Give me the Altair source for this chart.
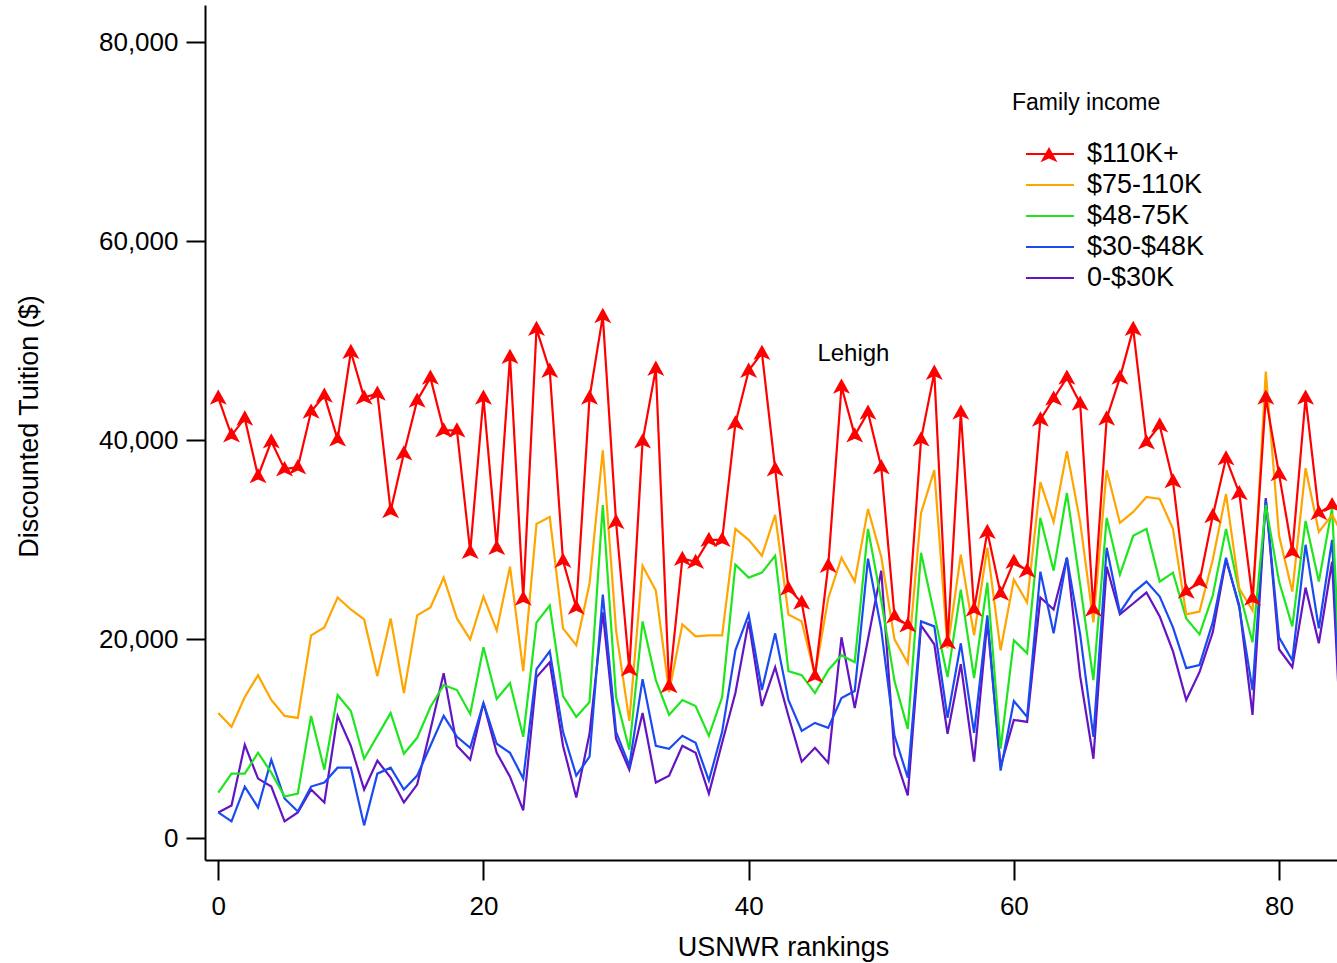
import altair as alt
import pandas as pd

series_names = ["$110K+", "$75-110K", "$48-75K", "$30-$48K", "0-$30K"]
series_colors = ["#FF0000", "#FFA500", "#1EE61E", "#1A4BF0", "#6414C0"]

ranks = list(range(0, 86))

tuition_110k = [44300, 40500, 42200, 36400, 39900, 37100, 37300, 42900, 44500, 40100,
                48900, 44300, 44700, 32900, 38700, 44000, 46300, 41000, 41000, 28800,
                44300, 29200, 48400, 24100, 51200, 47000, 27900, 23200, 44300, 52500,
                31800, 17000, 39900, 47200, 15300, 28100, 27800, 30000, 30000, 41700,
                47000, 48800, 37100, 25100, 23700, 16300, 27400, 45400, 40500, 42800,
                37300, 22300, 21400, 40100, 46800, 19700, 42800, 23000, 30800, 24600,
                27800, 26900, 42100, 44200, 46300, 43700, 23000, 42200, 46300, 51200,
                39800, 41500, 35900, 24800, 25800, 32400, 38200, 34700, 24100, 44300,
                36600, 28800, 44300, 32700, 33500, 33000]
tuition_75k = [12600, 11200, 14200, 16400, 13900, 12300, 12100, 20400, 21200, 24200,
               23000, 22000, 16300, 22100, 14600, 22400, 23200, 26200, 22100, 20000,
               24300, 20900, 27300, 16800, 31600, 32300, 21100, 19400, 25600, 39000,
               20900, 11800, 27400, 24900, 14700, 21500, 20300, 20400, 20400, 31100,
               30000, 28400, 32500, 22500, 21800, 16400, 24100, 28200, 25800, 33100,
               28300, 20000, 17600, 32700, 37000, 19100, 28500, 20400, 29200, 18900,
               26000, 23700, 35800, 31800, 38900, 31800, 21700, 37000, 31700, 32800,
               34300, 34100, 31100, 22500, 22800, 28000, 34600, 25100, 22900, 46900,
               30400, 24800, 37200, 30800, 32500, 30000]
tuition_48k = [4600, 6500, 6500, 8600, 6600, 4200, 4500, 12300, 6900, 14400,
               12800, 8000, 10300, 12600, 8500, 10100, 13200, 15400, 14900, 12500,
               19200, 14000, 15600, 10200, 21700, 23400, 14300, 12200, 13700, 33500,
               14200, 8900, 21800, 15900, 12400, 13900, 13300, 10300, 14200, 27500,
               26200, 26700, 28400, 16800, 16400, 14600, 16900, 18400, 17700, 31100,
               23900, 15800, 11000, 28700, 22500, 16200, 25000, 16100, 25700, 9000,
               19900, 18600, 32200, 26900, 34700, 25500, 15900, 32200, 26500, 30400,
               31100, 25800, 26700, 22100, 20500, 24400, 31100, 24800, 19700, 33500,
               25800, 21300, 31900, 25800, 33200, 5000]
tuition_30k = [2600, 1700, 5200, 3100, 7900, 4000, 2700, 5200, 5600, 7100,
               7100, 1300, 6500, 7100, 4900, 6300, 9300, 12300, 10200, 9100,
               13600, 9500, 8600, 6000, 17000, 18800, 10700, 6300, 8200, 24500,
               10700, 7300, 16000, 9300, 9000, 10300, 9600, 5800, 10700, 18900,
               22500, 14900, 20600, 13900, 10800, 11600, 11100, 14100, 14800, 28100,
               21000, 10300, 6100, 21800, 21300, 12100, 19600, 10600, 22400, 6800,
               13800, 12200, 26800, 20600, 28200, 20500, 10200, 29200, 22700, 24700,
               25800, 24300, 21200, 17100, 17400, 21700, 28200, 23200, 14900, 34000,
               20200, 17900, 29500, 21100, 30000, 3000]
tuition_0k = [2600, 3300, 9400, 6000, 5200, 1700, 2600, 4900, 3600, 12300,
              9300, 4900, 7800, 6100, 3600, 5400, 10900, 16600, 9300, 7900,
              13600, 8600, 6200, 2800, 16200, 17700, 9300, 4100, 10500, 22700,
              10000, 6900, 12600, 5600, 6300, 9300, 8600, 4500, 9600, 14600,
              21800, 13300, 17200, 12300, 7700, 9100, 7600, 20200, 13100, 20000,
              26900, 8400, 4300, 21400, 19500, 10500, 17500, 7700, 21800, 7200,
              11900, 11700, 24200, 23000, 28200, 16300, 8000, 27300, 22500, 23600,
              24700, 22300, 18800, 13900, 16700, 20700, 28000, 23400, 12400, 34200,
              19000, 17200, 25200, 19600, 27800, 1000]

x_ticks = [0, 20, 40, 60, 80]
y_ticks = [0, 20000, 40000, 60000, 80000]

annot_x = [47.9]
annot_y = [48700]
annot_text = ["Lehigh"]

# long table: draw order purple -> red so the red line sits on top
series_values = {
    "0-$30K": tuition_0k,
    "$30-$48K": tuition_30k,
    "$48-75K": tuition_48k,
    "$75-110K": tuition_75k,
    "$110K+": tuition_110k,
}
rows = []
for name, vals in series_values.items():
    for r, v in zip(ranks, vals):
        rows.append({"rank": r, "tuition": v, "series": name})
df = pd.DataFrame(rows)
df_red = pd.DataFrame({"rank": ranks, "tuition": tuition_110k, "marker": "$110K+"})
df_annot = pd.DataFrame({"rank": annot_x, "tuition": annot_y, "label": annot_text})

FONT = "Liberation Sans"
ARROW = "M0,-0.95 L1,0.85 L0,0.4 L-1,0.85 Z"

x_scale = alt.Scale(domain=[-1.0, 84.37], nice=False, zero=False)
y_scale = alt.Scale(domain=[-2180, 83750], nice=False, zero=False)

x_axis = alt.Axis(values=x_ticks, format=".0f", title="USNWR rankings", labelFlush=False,
                  titleX=578, titleY=95, titleBaseline="alphabetic",
                  tickSize=20, labelPadding=13, grid=False,
                  labelFontSize=26, labelColor="black", labelFont=FONT,
                  titleFontSize=27, titleColor="black", titleFont=FONT,
                  titleFontWeight="normal", domainColor="black", domainWidth=2,
                  tickColor="black", tickWidth=2)
y_axis = alt.Axis(values=y_ticks, format=",.0f", title="Discounted Tuition ($)",
                  titleAngle=270, titleX=-168, titleY=421,
                  titleBaseline="alphabetic", titleAlign="center",
                  tickSize=19, labelPadding=8, grid=False,
                  labelFontSize=26, labelColor="black", labelFont=FONT,
                  titleFontSize=27, titleColor="black", titleFont=FONT,
                  titleFontWeight="normal", domainColor="black", domainWidth=2,
                  tickColor="black", tickWidth=2)

lines = alt.Chart(df).mark_line(strokeWidth=2.2, clip=True).encode(
    x=alt.X("rank:Q", scale=x_scale, axis=x_axis),
    y=alt.Y("tuition:Q", scale=y_scale, axis=y_axis),
    color=alt.Color(
        "series:N",
        scale=alt.Scale(domain=series_names, range=series_colors),
        sort=series_names,
        legend=alt.Legend(
            title="Family income", orient="none", legendX=807, legendY=87,
            titleFontSize=23, titleFontWeight="normal", titleColor="black",
            titleFont=FONT, titlePadding=22, titleLimit=0,
            labelFontSize=27, labelColor="black", labelFont=FONT, labelLimit=0,
            symbolType="M-1.5,0L1.5,0", symbolSize=1024, symbolStrokeWidth=2,
            symbolOffset=21, labelOffset=20, rowPadding=1, padding=0,
        ),
    ),
    order=alt.Order("rank:Q"),
)

points = alt.Chart(df_red).mark_point(
    filled=True, size=289, color="#FF0000", opacity=1, clip=True
).encode(
    x=alt.X("rank:Q", scale=x_scale, axis=x_axis),
    y=alt.Y("tuition:Q", scale=y_scale, axis=y_axis),
    shape=alt.Shape(
        "marker:N",
        scale=alt.Scale(domain=["$110K+"], range=[ARROW]),
        legend=alt.Legend(
            title=None, orient="none", legendX=835.5, legendY=141.5,
            labelExpr="''", symbolFillColor="#FF0000", symbolStrokeColor="#FF0000",
            symbolSize=289, symbolStrokeWidth=0, padding=0, symbolOffset=0,
        ),
    ),
)

annot = alt.Chart(df_annot).mark_text(
    font=FONT, fontSize=24, color="black", align="center", baseline="middle"
).encode(
    x=alt.X("rank:Q", scale=x_scale, axis=x_axis),
    y=alt.Y("tuition:Q", scale=y_scale, axis=y_axis),
    text="label:N",
)

chart = alt.layer(lines, points, annot).resolve_legend(
    color="independent", shape="independent"
).properties(
    width=1132, height=855,
    padding={"left": 205, "top": 5, "right": 0, "bottom": 103},
    autosize=alt.AutoSizeParams(type="none"),
    background="white",
).configure_view(strokeWidth=0)

chart.save("out.html", embed_options={"renderer": "svg", "actions": False})
